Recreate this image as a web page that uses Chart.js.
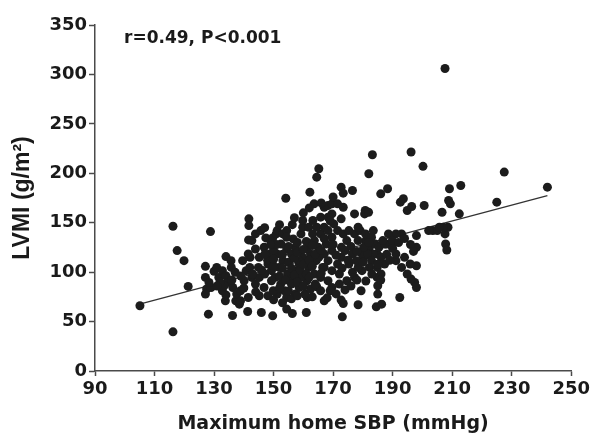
<!DOCTYPE html>
<html>
<head>
<meta charset="utf-8">
<script src="https://cdn.jsdelivr.net/npm/chart.js@4"></script>
<style>
  html, body { margin: 0; padding: 0; background: #fff; }
  #wrap { width: 593px; height: 435px; }
</style>
</head>
<body>
<div id="wrap"><canvas id="grafica" width="593" height="435"></canvas></div>
<script>
// Datos (máxima PAS domiciliaria vs IMVI)
const sbpOuter = [105.1,116.2,117.6,119.9,121.3,116.2,128.8,127.1,127.1,127.5,128.1,127.1,130,131.6,132.8,134,135.7,133.8,136.2,137.3,138.5,141.3,141.7,141.7,141.6,142.1,145.9,149.7,154.1,154.4,156.3,161,162.2,164.5,165.2,163.6,164.5,161.3,173.1,172.7,173.4,176.5,172.7,173.4,178.4,179.4,177.2,180.8,182,183.2,186,188.3,184.5,186.3,185,185,192.4,192.6,193.6,194.9,196.4,196.2,198,198,198,197.4,200.2,200.6,203.5,205,206.6,207.6,207.8,208.2,207.6,208.8,209.1,209.4,208.6,212.9,212.4,225,227.5,242,207,205.7,202.1,193,191.1,189.8,187.9,187.3,191.1,193,194.9,196.2,195.9,198,179.7,180.3,177.2,179.1,178.4,181,182.2,184.8,180.6,181.9,183.5];
const lvmiOuter = [66,146.4,121.8,111.6,85.6,39.6,141,105.9,94.7,82.9,57.5,77.8,100.8,94.7,81.2,115.7,111.6,71,56.1,71,67.6,60.2,153.9,147.1,132.6,115,59.2,55.8,174.8,62.6,58.2,59.2,180.9,196.1,204.6,169.1,85.2,74.4,54.8,186,179.9,182.6,71.7,68.3,67,81.2,158.9,162.3,199.5,218.8,179.2,184.3,64.9,67.6,86.2,77.8,74.4,170.8,174.2,162.3,166.4,221.5,125.1,106.5,84.5,89.6,207,167.4,142,142,160.6,306,128.5,122.4,138.7,172.5,184.3,169.1,145.4,187.7,159,170.8,201.2,186,145.4,145.4,142,138.7,138.7,128.5,128.5,108.2,111.6,104.8,98.1,93,108.2,137,101.5,115,138.7,142,145.4,131.9,125.1,118.4,158.9,160.6,118.4];

const sbpCore = [130.9,132.8,134,134.6,133.4,129,128.3,136.3,137.6,138.9,140.1,140.8,142,142.7,143.9,145.2,144.9,145.2,143.9,146.8,147.4,148.6,148.1,149.3,146.8,145.2,148.1,138.9,141.5,137.1,135.8,139.6,141.5,142.7,143.9,145.7,149.7,150.9,151.2,153.1,154.4,152.5,154.4,151.2,153.1,151.8,150.5,152.4,153.7,151.2,149.9,154.4,156,157.3,158.6,159.8,156,157.3,156.6,159.2,159.8,159.8,161.8,163.1,163.7,165,162.4,164.3,161.8,163.7,161.2,159.2,158.6,157.3,160.5,162.4,165.8,166.5,165.2,165.8,164.5,163.2,165.8,154.7,156,158.6,161.2,154.4,156.3,149.3];
const lvmiCore = [104.8,101.5,96.4,89.6,86.2,84.5,89.6,84.5,77.8,81.2,91.3,101.5,104.8,94.7,87.9,94.7,104.8,115,123.4,125.1,134.6,118.4,108.2,101.5,84.5,76.1,76.1,71,74.4,99.8,104.8,111.6,118.4,131.9,138.7,142,134.6,138.7,142,138.7,142,128.5,123.4,118.4,111.6,104.8,94.7,87.9,81.2,77.8,81.2,74.4,94.7,101.5,108.2,115,118.4,125.1,133.6,138.7,145.4,152.2,145.4,138.7,131.9,125.1,118.4,111.6,104.8,98.1,91.3,94.7,84.5,77.8,77.8,82.9,94.7,104.8,115,138.7,145.4,152.2,155.6,98.1,87.9,111.6,123.4,135.2,148,91.3];

const sbpRight = [167,168.3,169.6,171.5,169.6,168.3,167,168.3,170.2,171.5,169.6,167.7,169.6,167,168.3,167,169.6,168.3,169.6,169,172.1,172.1,171.5,172.8,174,172.8,174.6,173.4,175.3,176.5,175.3,176.5,174.6,177.2,178.4,177.8,179.7,181.6,182.9,180.3,178.4,180.9,182.9,183.5,184.1,182.2,184.8,186.1,185.4,187.3,186.7,188.6,189.9,191.1,184.8,186.1,165.8,167,169,173.4,172.7];
const lvmiRight = [165.7,167.4,169.1,169.1,158.9,155.6,145.4,142,148.8,142,135.3,128.5,121.8,118.4,111.6,104.8,101.5,91.3,84.5,81.2,87.9,98.1,108.2,115,121.8,125.1,131.9,138.7,142,118.4,108.2,99.8,91.3,94.7,104.8,111.6,118.4,118.4,111.6,125.1,131.9,138.7,135.3,142,128.5,104.8,104.8,115,125.1,128.5,131.9,138.7,131.9,118.4,94.7,98.1,81.2,71,152,165.7,153.9];

const sbpFill = [147,148,150,150,151,152,153,153,154,155,155,156,157,157,158,158,159,160,160,161,161,162,163,163,164,146,147,149,150,152,155,158,160,162,164,166,166,167,170,171,173,175,176,178,180,182,183,185,188,190,192,194,196,197,194,189,186,143,139,136,132,131,134,140,144,150,153,156,158,163,168,171,174,176,178,181,160,162,166,170,157,152,147];
const lvmiFill = [98,112,106,122,128,96,104,118,92,110,126,104,114,97,120,130,102,108,123,98,131,112,106,127,118,102,118,128,113,84,81,90,86,95,88,99,122,134,128,117,104,112,126,121,110,130,98,108,118,124,130,134,128,121,115,112,92,98,96,92,90,86,77,84,80,72,69,73,76,75,74,78,82,86,92,91,160,165,170,176,155,148,145];

// Recta de regresión
const lineaX = [105, 242];
const lineaY = [67.6, 177.5];

const xTicks = [90, 110, 130, 150, 170, 190, 210, 230, 250];
const yTicks = [0, 50, 100, 150, 200, 250, 300, 350];

const textoR = "r=0.49, P<0.001";

function aPuntos(xs, ys) {
    return xs.map((x, i) => ({ x: x, y: ys[i] }));
}

const puntos = []
    .concat(aPuntos(sbpOuter, lvmiOuter))
    .concat(aPuntos(sbpCore, lvmiCore))
    .concat(aPuntos(sbpRight, lvmiRight))
    .concat(aPuntos(sbpFill, lvmiFill));

const fuente = "'DejaVu Sans', sans-serif";
const fuenteTituloY = "'Liberation Sans', Arial, sans-serif";
const colorEje = "#4a4a4a";
const colorTexto = "#1a1a1a";

// Texto de la correlación arriba a la izquierda
const anotacion = {
    id: "anotacion",
    afterDraw(chart) {
        const ctx = chart.ctx;
        ctx.save();
        ctx.font = "bold 17px " + fuente;
        ctx.fillStyle = colorTexto;
        ctx.textBaseline = "alphabetic";
        ctx.fillText(textoR, 124, 43);
        ctx.restore();
    }
};

new Chart(document.getElementById("grafica"), {
    type: "scatter",
    data: {
        datasets: [
            {
                data: puntos,
                backgroundColor: "#1c1c1c",
                borderWidth: 0,
                pointRadius: 4.5,
                pointHoverRadius: 4.5
            },
            {
                type: "line",
                data: aPuntos(lineaX, lineaY),
                borderColor: "#333",
                borderWidth: 1.3,
                pointRadius: 0,
                fill: false
            }
        ]
    },
    options: {
        responsive: false,
        animation: false,
        layout: { padding: { top: 25, right: 20, left: 0, bottom: 0 } },
        plugins: {
            legend: { display: false },
            tooltip: { enabled: false }
        },
        scales: {
            x: {
                type: "linear",
                min: 90,
                max: 250,
                afterBuildTicks: (s) => { s.ticks = xTicks.map(v => ({ value: v })); },
                afterFit: (s) => { s.height = 64; },
                border: { color: colorEje, width: 1.5 },
                grid: { drawOnChartArea: false, tickLength: 5, tickColor: colorEje, tickWidth: 1.5 },
                ticks: { color: colorTexto, padding: 3, font: { family: fuente, size: 18, weight: "bold" } },
                title: {
                    display: true,
                    text: "Maximum home SBP (mmHg)",
                    color: colorTexto,
                    padding: { top: 8, bottom: 0 },
                    font: { family: fuente, size: 19, weight: "bold" }
                }
            },
            y: {
                min: 0,
                max: 350,
                afterBuildTicks: (s) => { s.ticks = yTicks.map(v => ({ value: v })); },
                afterFit: (s) => { s.width = 95; },
                border: { color: colorEje, width: 1.5 },
                grid: { drawOnChartArea: false, tickLength: 6, tickColor: colorEje, tickWidth: 1.5 },
                ticks: { color: colorTexto, padding: 2, font: { family: fuente, size: 18, weight: "bold" } },
                title: {
                    display: true,
                    text: "LVMI (g/m²)",
                    color: colorTexto,
                    padding: { top: 9, bottom: 0 },
                    font: { family: fuenteTituloY, size: 23, weight: "bold" }
                }
            }
        }
    },
    plugins: [anotacion]
});
</script>
</body>
</html>
